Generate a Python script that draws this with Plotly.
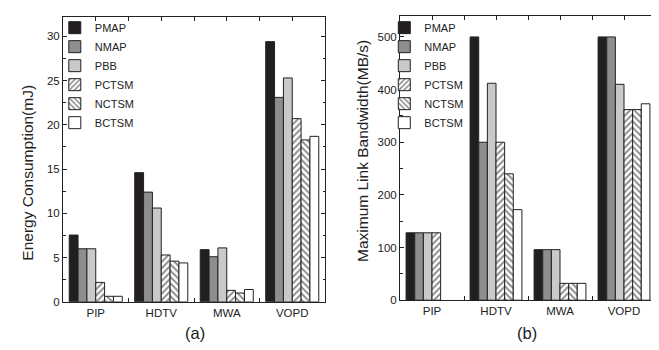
import plotly.graph_objects as go

categories = ["PIP", "HDTV", "MWA", "VOPD"]
series_names = ["PMAP", "NMAP", "PBB", "PCTSM", "NCTSM", "BCTSM"]

# Energy consumption (mJ)
energy_pmap = [7.55, 14.6, 5.9, 29.4]
energy_nmap = [6.0, 12.4, 5.1, 23.1]
energy_pbb = [6.0, 10.6, 6.1, 25.3]
energy_pctsm = [2.2, 5.3, 1.3, 20.7]
energy_nctsm = [0.63, 4.6, 1.0, 18.3]
energy_bctsm = [0.63, 4.4, 1.4, 18.7]

# Maximum link bandwidth (MB/s)
bw_pmap = [128, 500, 96, 500]
bw_nmap = [128, 300, 96, 500]
bw_pbb = [128, 412, 96, 410]
bw_pctsm = [128, 300, 32, 362]
bw_nctsm = [None, 240, 32, 362]
bw_bctsm = [None, 172, 32, 373]

energy = [energy_pmap, energy_nmap, energy_pbb, energy_pctsm, energy_nctsm, energy_bctsm]
bandwidth = [bw_pmap, bw_nmap, bw_pbb, bw_pctsm, bw_nctsm, bw_bctsm]

INK = "#222222"
fills = ["#231f20", "#8e8e8e", "#c9c9c9", "white", "white", "white"]
patterns = ["", "", "", "/", "\\", ""]

xpos = list(range(len(categories)))

fig = go.Figure()

def add_traces(values_list, xa, ya, legend):
    for name, vals, fc, pat in zip(series_names, values_list, fills, patterns):
        marker = dict(color=fc, line=dict(color=INK, width=1))
        if pat:
            marker["pattern"] = dict(shape=pat, fgcolor="#111111", bgcolor="white",
                                     size=4.5, solidity=0.4, fillmode="overlay")
        fig.add_trace(go.Bar(x=xpos, y=vals, name=name, marker=marker,
                             xaxis=xa, yaxis=ya, legend=legend))

add_traces(energy, "x", "y", "legend")
add_traces(bandwidth, "x2", "y2", "legend2")

font_family = "Liberation Sans, Arial, sans-serif"
TICK_SIZE = 11.5

def xaxis_cfg(domain, anchor):
    return dict(domain=domain, anchor=anchor, range=[-0.5, 3.5],
                tickvals=xpos, ticktext=categories, ticks="inside", ticklen=4,
                tickcolor=INK, showline=True, linecolor=INK, linewidth=1,
                mirror="allticks", showgrid=False, zeroline=False,
                layer="below traces",
                minor=dict(tickvals=[0.5, 1.5, 2.5], ticks="inside", ticklen=4,
                           tickcolor=INK, showgrid=False),
                tickfont=dict(size=TICK_SIZE, color=INK, family=font_family))

def yaxis_cfg(domain, anchor, rng, dtick):
    return dict(domain=domain, anchor=anchor, range=rng, dtick=dtick,
                ticks="inside", ticklen=4, tickcolor=INK, showline=True,
                linecolor=INK, linewidth=1, mirror="allticks", showgrid=False,
                zeroline=False, layer="below traces",
                minor=dict(dtick=dtick / 2, ticks="inside", ticklen=2.5,
                           tickcolor=INK, showgrid=False),
                tickfont=dict(size=TICK_SIZE, color=INK, family=font_family))

fig.update_layout(
    width=659, height=350,
    margin=dict(l=0, r=0, t=0, b=0),
    paper_bgcolor="white", plot_bgcolor="white",
    font=dict(family=font_family, color=INK),
    barmode="group", bargap=0.19, bargroupgap=0,
    xaxis=xaxis_cfg([55 / 659, 317 / 659], "y"),
    yaxis=yaxis_cfg([1 - 299 / 350, 1 - 9 / 350], "x", [0, 32.2], 5),
    xaxis2=xaxis_cfg([392 / 659, 648 / 659], "y2"),
    yaxis2=yaxis_cfg([1 - 297.3 / 350, 1 - 8 / 350], "x2", [0, 540], 100),
    legend=dict(x=0.071, y=0.985, xanchor="left", yanchor="top",
                bgcolor="rgba(0,0,0,0)", borderwidth=0, tracegroupgap=0,
                font=dict(size=11, color=INK, family=font_family)),
    legend2=dict(x=0.571, y=0.985, xanchor="left", yanchor="top",
                 bgcolor="rgba(0,0,0,0)", borderwidth=0, tracegroupgap=0,
                 font=dict(size=11, color=INK, family=font_family)),
    annotations=[
        dict(text="Energy Consumption(mJ)", x=20 / 659, y=1 - 167.5 / 350,
             xref="paper", yref="paper", xanchor="center", yanchor="middle",
             textangle=-90, showarrow=False,
             font=dict(size=15.5, color=INK, family=font_family)),
        dict(text="Maximum Link Bandwidth(MB/s)", x=354 / 659, y=1 - 145.5 / 350,
             xref="paper", yref="paper", xanchor="center", yanchor="middle",
             textangle=-90, showarrow=False,
             font=dict(size=15.5, color=INK, family=font_family)),
        dict(text="(a)", x=187 / 659, y=1 - 331 / 350, xref="paper", yref="paper",
             xanchor="center", yanchor="middle",
             showarrow=False, font=dict(size=16.5, color=INK, family=font_family)),
        dict(text="(b)", x=519 / 659, y=1 - 331 / 350, xref="paper", yref="paper",
             xanchor="center", yanchor="middle",
             showarrow=False, font=dict(size=16.5, color=INK, family=font_family)),
    ],
)

fig.write_html("out.html")
